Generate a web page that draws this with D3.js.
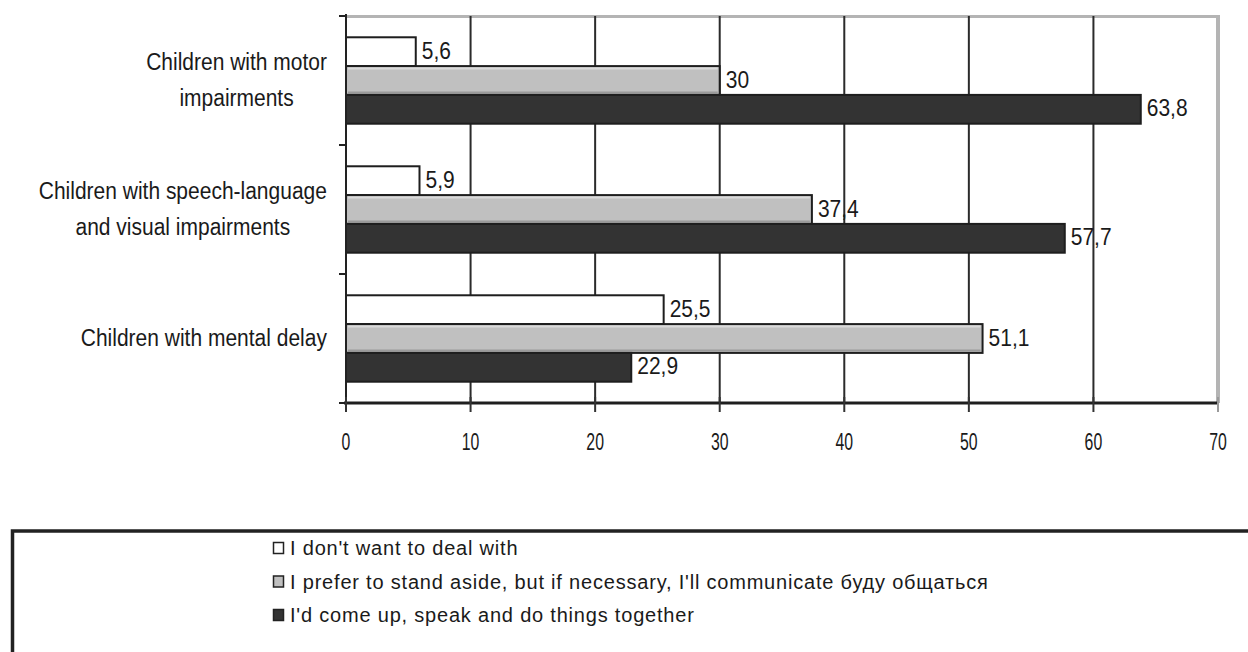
<!DOCTYPE html>
<html>
<head>
<meta charset="utf-8">
<script src="https://cdn.jsdelivr.net/npm/d3@7/dist/d3.min.js"></script>
<style>
  html, body { margin: 0; padding: 0; background: #fff; }
  svg { display: block; }
  text { font-family: "Liberation Sans", Arial, sans-serif; fill: #1a1a1a; }
</style>
</head>
<body>
<svg id="chart" width="1248" height="652"></svg>
<script>
// Survey answers by group of children (percent)
const categories = [
  "Children with motor impairments",
  "Children with speech-language and visual impairments",
  "Children with mental delay"
];
const categoryLines = [
  ["Children with motor", "impairments"],
  ["Children with speech-language", "and visual impairments"],
  ["Children with mental delay"]
];
const seriesNames = [
  "I don't want to deal with",
  "I prefer to stand aside, but if necessary, I'll communicate буду общаться",
  "I'd come up, speak and do things together"
];
const dontWant    = [5.6, 5.9, 25.5];
const standAside  = [30, 37.4, 51.1];
const comeUp      = [63.8, 57.7, 22.9];
const xTicks      = [0, 10, 20, 30, 40, 50, 60, 70];

const seriesValues = [dontWant, standAside, comeUp];
const fills   = ["#ffffff", "#c0c0c0", "#333333"];

const svg = d3.select("#chart");

const x = d3.scaleLinear().domain([0, 70]).range([346, 1218]);
const y0 = d3.scaleBand().domain(categories).range([16, 403])
  .paddingInner(0.33).paddingOuter(0.165);
const y1 = d3.scaleBand().domain(seriesNames).range([0, y0.bandwidth()]);

const fmt = v => String(v).replace(".", ",");

// plot frame: light top/right edges
svg.append("line").attr("x1", x(0)).attr("x2", x(70) + 2)
  .attr("y1", 16.5).attr("y2", 16.5)
  .attr("stroke", "#b4b4b4").attr("stroke-width", 3);
svg.append("line").attr("x1", x(70)).attr("x2", x(70))
  .attr("y1", 15).attr("y2", 403)
  .attr("stroke", "#b4b4b4").attr("stroke-width", 4);

// vertical grid lines
svg.append("g").selectAll("line")
  .data(xTicks.filter(t => t > 0 && t < 70))
  .join("line")
  .attr("x1", d => x(d)).attr("x2", d => x(d))
  .attr("y1", 16).attr("y2", 403)
  .attr("stroke", "#2b2b2b").attr("stroke-width", 2);

// bars
const groups = svg.append("g").selectAll("g")
  .data(categories)
  .join("g")
  .attr("transform", d => `translate(0,${y0(d)})`);

groups.each(function (cat, ci) {
  const g = d3.select(this);
  seriesNames.forEach((s, si) => {
    const v = seriesValues[si][ci];
    const top = y1(s);
    const h = y1.bandwidth();
    g.append("rect")
      .attr("x", x(0)).attr("y", top)
      .attr("width", x(v) - x(0)).attr("height", h)
      .attr("fill", fills[si])
      .attr("stroke", "#1e1e1e").attr("stroke-width", 2);
    if (si === 1) {
      // soft bevel on the grey bars
      g.append("line").attr("x1", x(0) + 2).attr("x2", x(v) - 2)
        .attr("y1", top + 2.5).attr("y2", top + 2.5)
        .attr("stroke", "#dadada").attr("stroke-width", 2);
      g.append("line").attr("x1", x(0) + 2).attr("x2", x(v) - 2)
        .attr("y1", top + h - 2.5).attr("y2", top + h - 2.5)
        .attr("stroke", "#9a9a9a").attr("stroke-width", 2);
    }
    g.append("text")
      .attr("transform", `translate(${x(v) + 6},${top + h / 2 + 7}) scale(1,1.12)`)
      .attr("font-size", 21)
      .text(fmt(v));
  });
});

// left axis with band-boundary ticks
svg.append("line").attr("x1", x(0)).attr("x2", x(0))
  .attr("y1", 14).attr("y2", 405)
  .attr("stroke", "#222").attr("stroke-width", 2);
const bounds = d3.range(categories.length + 1).map(i => y0.range()[0] + i * y0.step());
svg.append("g").selectAll("line").data(bounds).join("line")
  .attr("x1", x(0) - 7).attr("x2", x(0))
  .attr("y1", d => d).attr("y2", d => d)
  .attr("stroke", "#222").attr("stroke-width", 2);

// bottom axis
svg.append("line").attr("x1", x(0) - 2).attr("x2", x(70))
  .attr("y1", 403).attr("y2", 403)
  .attr("stroke", "#1e1e1e").attr("stroke-width", 3);
svg.append("g").selectAll("line").data(xTicks).join("line")
  .attr("x1", d => x(d)).attr("x2", d => x(d))
  .attr("y1", 397).attr("y2", 412)
  .attr("stroke", d => d === 70 ? "#9a9a9a" : "#333").attr("stroke-width", 2);
svg.append("g").selectAll("text").data(xTicks).join("text")
  .attr("transform", d => `translate(${x(d)},450) scale(0.66,1)`)
  .attr("text-anchor", "middle")
  .attr("font-size", 24)
  .text(d => d);

// category labels: wrapped lines centred in a right-aligned block
categories.forEach((cat, ci) => {
  const lines = categoryLines[ci];
  const lh = 36;
  const cy = y0(cat) + y0.bandwidth() / 2;
  const texts = lines.map((ln, li) => svg.append("text")
    .attr("font-size", 21)
    .attr("text-anchor", "middle")
    .text(ln));
  const w = d3.max(texts, t => t.node().getComputedTextLength());
  const cx = 327 - w / 2;
  texts.forEach((t, li) => {
    const yy = cy + (li - (lines.length - 1) / 2) * lh + 7;
    t.attr("transform", `translate(${cx},${yy}) scale(1,1.12)`);
  });
});

// legend
svg.append("rect")
  .attr("x", 12.5).attr("y", 531)
  .attr("width", 1400).attr("height", 300)
  .attr("fill", "none").attr("stroke", "#222").attr("stroke-width", 3.5);

const legend = svg.append("g").selectAll("g").data(seriesNames).join("g")
  .attr("transform", (d, i) => `translate(273,${548 + i * 33.5})`);
legend.append("rect")
  .attr("x", 0.5).attr("y", -5.5).attr("width", 10).attr("height", 11)
  .attr("fill", (d, i) => fills[i])
  .attr("stroke", "#222").attr("stroke-width", 1.5);
legend.append("text")
  .attr("x", 17).attr("y", 7)
  .attr("font-size", 20)
  .attr("letter-spacing", 0.8)
  .text(d => d);
</script>
</body>
</html>
